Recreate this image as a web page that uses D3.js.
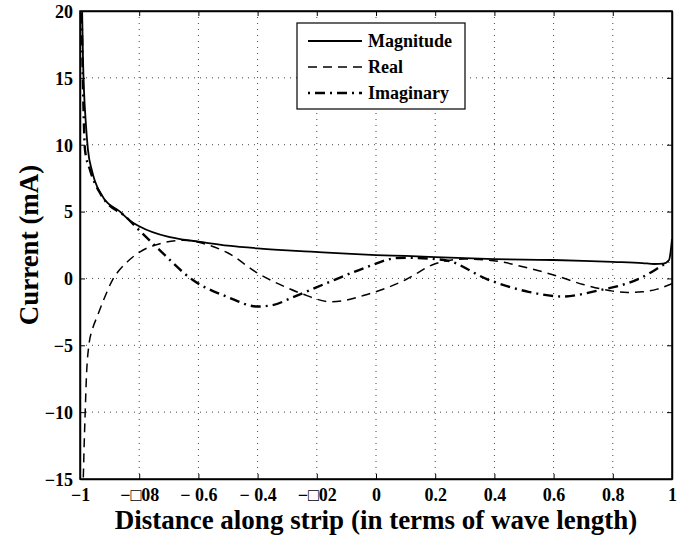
<!DOCTYPE html>
<html>
<head>
<meta charset="utf-8">
<script src="https://cdn.jsdelivr.net/npm/d3@7"></script>
<style>
  body { margin: 0; background: #fff; }
  svg text { font-family: Liberation Serif, DejaVu Serif, serif !important; font-weight: bold; }
</style>
</head>
<body>
<div id="chart"></div>
<script>
// tick values / labels as shown in the figure
const xTicks = [-1, -0.8, -0.6, -0.4, -0.2, 0, 0.2, 0.4, 0.6, 0.8, 1];
const xTickLabels = ["\u22121", "\u2212\u25A108", "\u2212 0.6", "\u2212 0.4", "\u2212\u25A102", "0", "0.2", "0.4", "0.6", "0.8", "1"];
const yTicks = [-15, -10, -5, 0, 5, 10, 15, 20];
const yTickLabels = ["\u221215", "\u221210", "\u22125", "0", "5", "10", "15", "20"];

// series
const magX = [-0.996, -0.99, -0.98, -0.973, -0.96, -0.95, -0.92, -0.865, -0.83, -0.8, -0.7, -0.65, -0.6, -0.5, -0.4, -0.3, -0.22, -0.1, 0, 0.1, 0.2, 0.3, 0.4, 0.5, 0.6, 0.7, 0.8, 0.9, 0.94, 0.97, 0.99, 1.0];
const magY = [24, 16.5, 11.5, 9.6, 8.1, 7.3, 6.0, 5.0, 4.3, 3.9, 3.1, 2.9, 2.75, 2.45, 2.25, 2.1, 2.0, 1.85, 1.75, 1.68, 1.6, 1.52, 1.45, 1.4, 1.38, 1.32, 1.24, 1.15, 1.08, 1.1, 1.38, 2.95];

const reX = [-0.991, -0.989, -0.986, -0.983, -0.978, -0.97, -0.958, -0.943, -0.92, -0.89, -0.86, -0.84, -0.8, -0.73, -0.65, -0.6, -0.5, -0.4, -0.3, -0.25, -0.15, -0.03, 0.1, 0.2, 0.3, 0.42, 0.5, 0.6, 0.7, 0.8, 0.85, 0.9, 0.95, 1.0];
const reY = [-16, -15, -12.5, -10.4, -7.2, -5.0, -3.8, -2.9, -1.6, -0.1, 0.8, 1.25, 1.95, 2.6, 2.85, 2.7, 1.9, 0.4, -0.7, -1.15, -1.75, -1.2, -0.1, 1.1, 1.45, 1.25, 0.85, 0.26, -0.45, -0.95, -1.05, -1.0, -0.8, -0.4];

const imX = [-0.996, -0.99, -0.983, -0.966, -0.93, -0.84, -0.8, -0.73, -0.62, -0.5, -0.4, -0.35, -0.28, -0.14, -0.03, 0.06, 0.1, 0.23, 0.38, 0.515, 0.63, 0.76, 0.83, 0.9, 0.97, 0.99];
const imY = [22, 14.5, 9.6, 8.1, 6.3, 4.5, 3.6, 2.1, -0.1, -1.4, -2.1, -2.0, -1.4, -0.1, 0.86, 1.5, 1.55, 1.38, -0.1, -1.0, -1.35, -0.86, -0.5, 0.1, 1.0, 1.25];

const seriesNames = ["Magnitude", "Real", "Imaginary"];

const W = 677, H = 539;
const margin = {top: 11, right: 5, bottom: 60, left: 80};
const width = W - margin.left - margin.right;
const height = H - margin.top - margin.bottom;

const svg = d3.select("#chart").append("svg")
    .attr("width", W)
    .attr("height", H);

const g = svg.append("g")
    .attr("transform", "translate(" + margin.left + "," + margin.top + ")");

const x = d3.scaleLinear().domain([-1, 1]).range([0, width]);
const y = d3.scaleLinear().domain([-15, 20]).range([height, 0]);

g.append("defs").append("clipPath").attr("id", "clip")
    .append("rect").attr("width", width).attr("height", height);

// dotted grid
xTicks.slice(1, -1).forEach(t => {
    g.append("line")
        .attr("x1", x(t)).attr("x2", x(t))
        .attr("y1", 0).attr("y2", height)
        .attr("stroke", "#444").attr("stroke-width", 1)
        .attr("stroke-dasharray", "1,5");
});
yTicks.slice(1, -1).forEach(t => {
    g.append("line")
        .attr("x1", 0).attr("x2", width)
        .attr("y1", y(t)).attr("y2", y(t))
        .attr("stroke", "#444").attr("stroke-width", 1)
        .attr("stroke-dasharray", "1,5");
});

// axes: ticks point inward on all four sides
const tickLen = 5;
const xAxis = g.append("g").attr("transform", "translate(0," + height + ")")
    .call(d3.axisBottom(x).tickValues(xTicks).tickSizeInner(-tickLen).tickSizeOuter(0)
        .tickFormat((d, i) => xTickLabels[i]));
const yAxis = g.append("g")
    .call(d3.axisLeft(y).tickValues(yTicks).tickSizeInner(-tickLen).tickSizeOuter(0)
        .tickFormat((d, i) => yTickLabels[i]));
g.append("g")
    .call(d3.axisTop(x).tickValues(xTicks).tickSizeInner(-tickLen).tickSizeOuter(0).tickFormat(""));
g.append("g").attr("transform", "translate(" + width + ",0)")
    .call(d3.axisRight(y).tickValues(yTicks).tickSizeInner(-tickLen).tickSizeOuter(0).tickFormat(""));

g.selectAll(".domain").attr("stroke", "#000").attr("stroke-width", 1.5);
g.selectAll(".tick line").attr("stroke", "#000");

xAxis.attr("font-size", 18);
yAxis.attr("font-size", 18);

xAxis.selectAll("text")
    .attr("fill", "#000")
    .attr("dy", 0).attr("y", 22);
yAxis.selectAll("text")
    .attr("fill", "#000")
    .attr("x", -7).attr("dy", "0.35em");

// curves
const curves = [
    {xs: magX, ys: magY, dash: null, w: 1.8},
    {xs: reX, ys: reY, dash: "9,6", w: 1.5},
    {xs: imX, ys: imY, dash: "2,5,10,5", w: 2.4}
];

const line = d3.line()
    .x(d => x(d[0]))
    .y(d => y(d[1]))
    .curve(d3.curveMonotoneX);

const plot = g.append("g").attr("clip-path", "url(#clip)");
curves.forEach(c => {
    plot.append("path")
        .datum(d3.zip(c.xs, c.ys))
        .attr("d", line)
        .attr("fill", "none")
        .attr("stroke", "#000")
        .attr("stroke-width", c.w)
        .attr("stroke-dasharray", c.dash);
});

// frame
g.append("rect")
    .attr("width", width).attr("height", height)
    .attr("fill", "none").attr("stroke", "#000").attr("stroke-width", 1.5);

// legend
const legend = svg.append("g").attr("transform", "translate(297,23)");
legend.append("rect")
    .attr("width", 168).attr("height", 86)
    .attr("fill", "#fff").attr("stroke", "#000").attr("stroke-width", 1.2);
seriesNames.forEach((name, i) => {
    const ly = 18 + i * 26;
    legend.append("line")
        .attr("x1", 11).attr("x2", 65)
        .attr("y1", ly).attr("y2", ly)
        .attr("stroke", "#000")
        .attr("stroke-width", curves[i].w)
        .attr("stroke-dasharray", curves[i].dash);
    legend.append("text")
        .attr("x", 71).attr("y", ly)
        .attr("dy", "0.35em")
        .attr("font-size", 18)
        .text(name);
});

// axis labels
svg.append("text")
    .attr("x", margin.left + width / 2)
    .attr("y", 529)
    .attr("text-anchor", "middle")
    .attr("font-size", 27)
    .text("Distance along strip (in terms of wave length)");

svg.append("text")
    .attr("transform", "translate(38," + (margin.top + height / 2) + ") rotate(-90)")
    .attr("text-anchor", "middle")
    .attr("font-size", 27)
    .text("Current (mA)");
</script>
</body>
</html>
